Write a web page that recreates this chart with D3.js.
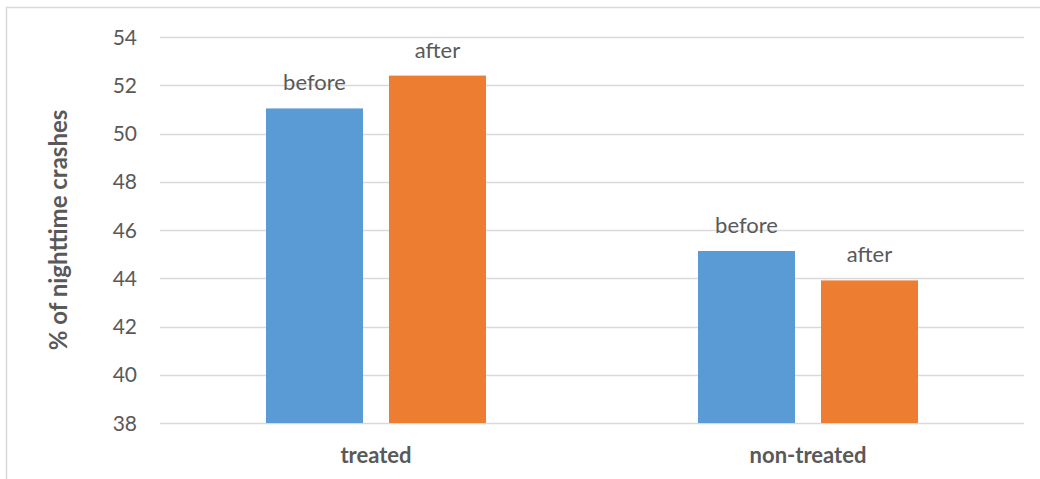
<!DOCTYPE html>
<html>
<head>
<meta charset="utf-8">
<script src="https://cdn.jsdelivr.net/npm/d3@7"></script>
<style>
  html, body { margin: 0; padding: 0; background: #fff; }
  svg { display: block; }
  text { font-family: Lato, "Open Sans", sans-serif; fill: #595959; }
</style>
</head>
<body>
<svg id="chart" width="1040" height="479"></svg>
<script>
// Nighttime crash share, before vs after, by site group
const categories = ["treated", "non-treated"];
const seriesNames = ["before", "after"];
const beforeValues = [51.04, 45.13];
const afterValues = [52.40, 43.91];
const yTicks = [38, 40, 42, 44, 46, 48, 50, 52, 54];
const yTitle = "% of nighttime crashes";

const svg = d3.select("#chart");
const W = 1040, H = 479;
const margin = { left: 160, right: 16, top: 37, bottom: 56 };
const plotW = W - margin.left - margin.right;
const plotH = H - margin.top - margin.bottom;
const groupW = 220;

// chart frame
svg.append("rect")
  .attr("x", 6.5).attr("y", 7.5)
  .attr("width", W + 10).attr("height", H + 10)
  .attr("fill", "none").attr("stroke", "#d9d9d9").attr("stroke-width", 1.5);

const g = svg.append("g").attr("transform", `translate(${margin.left},${margin.top})`);

const y = d3.scaleLinear().domain([38, 54]).range([plotH, 0]);
const x0 = d3.scaleBand().domain(categories).range([0, plotW]).padding(0);
const x1 = d3.scaleBand().domain(seriesNames)
  .range([0, groupW]).paddingInner(0.2114).paddingOuter(0);
const colors = d3.scaleOrdinal().domain(seriesNames).range(["#5B9BD5", "#ED7D31"]);

// gridlines
g.append("g").selectAll("line").data(yTicks).join("line")
  .attr("x1", 0).attr("x2", plotW)
  .attr("y1", d => Math.round(y(d)) + 0.5).attr("y2", d => Math.round(y(d)) + 0.5)
  .attr("stroke", "#d9d9d9").attr("stroke-width", 1.3);

// y axis labels
const yAxis = d3.axisLeft(y).tickValues(yTicks).tickSize(0).tickPadding(23);
const ya = g.append("g").call(yAxis);
ya.select(".domain").remove();
ya.selectAll("text")
  .style("font-size", "21px").attr("fill", "#595959").attr("dy", "0.34em");

// bars
const rows = categories.map((c, i) => ({
  category: c,
  values: [
    { series: "before", value: beforeValues[i] },
    { series: "after", value: afterValues[i] }
  ]
}));

const groups = g.selectAll(".grp").data(rows).join("g")
  .attr("class", "grp")
  .attr("transform", d => `translate(${x0(d.category) + (x0.bandwidth() - groupW) / 2},0)`);

groups.selectAll("rect").data(d => d.values).join("rect")
  .attr("x", d => x1(d.series))
  .attr("width", x1.bandwidth())
  .attr("y", d => y(d.value))
  .attr("height", d => y(38) - y(d.value))
  .attr("fill", d => colors(d.series));

// series labels above each bar
groups.selectAll("text.lbl").data(d => d.values).join("text")
  .attr("class", "lbl")
  .attr("x", d => x1(d.series) + x1.bandwidth() / 2)
  .attr("y", d => y(d.value) - 18)
  .attr("text-anchor", "middle")
  .style("font-size", "22px")
  .text(d => d.series);

// category axis labels
const xAxis = d3.axisBottom(x0).tickSize(0).tickPadding(24);
const xa = g.append("g").attr("transform", `translate(0,${plotH})`).call(xAxis);
xa.select(".domain").remove();
xa.selectAll("text")
  .style("font-size", "22px").style("font-weight", "bold").attr("fill", "#595959");

// y axis title
svg.append("text")
  .attr("transform", `translate(67,${margin.top + plotH / 2}) rotate(-90)`)
  .attr("text-anchor", "middle")
  .style("font-size", "24px").style("font-weight", "bold")
  .text(yTitle);
</script>
</body>
</html>
